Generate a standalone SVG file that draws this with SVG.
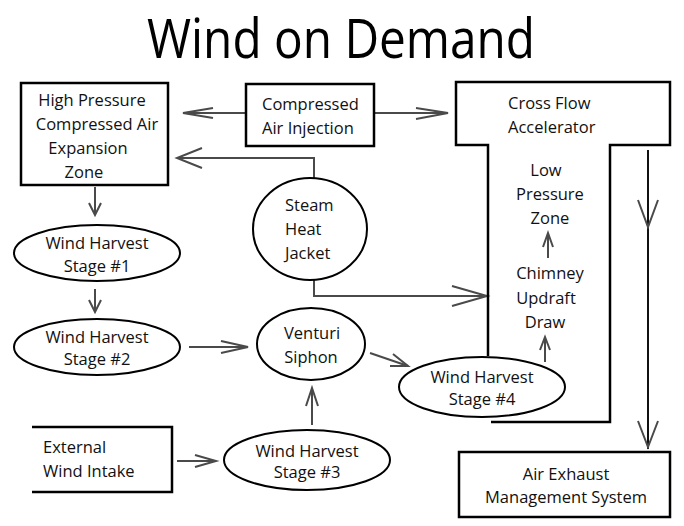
<svg xmlns="http://www.w3.org/2000/svg" width="684" height="526" viewBox="0 0 684 526">
<style>
  .box{fill:none;stroke:#000;stroke-width:2.5}
  .ell{fill:#fff;stroke:#000;stroke-width:2}
  .t{font-family:"Open Sans","Noto Sans","Liberation Sans",sans-serif;font-size:16.5px;fill:#111}
  .m{text-anchor:middle}
  .ln{fill:none;stroke:#4a4a4a;stroke-width:2}
  .ah{fill:none;stroke:#4a4a4a;stroke-width:2;stroke-linejoin:miter}
  .title{font-family:"Open Sans","Noto Sans","Liberation Sans",sans-serif;font-size:54px;fill:#000}
</style>
<rect width="684" height="526" fill="#fff"/>
<text class="title" x="147" y="58" textLength="388" lengthAdjust="spacingAndGlyphs">Wind on Demand</text>

<g id="connectors">
  <!-- CAI -> HP -->
  <line class="ln" x1="246" y1="113" x2="183" y2="113"/>
  <polyline class="ah" points="213,108 183,113 213,118"/>
  <!-- CAI -> Cross Flow -->
  <line class="ln" x1="373" y1="113" x2="448" y2="113"/>
  <polyline class="ah" points="416,108 448,113 416,119"/>
  <!-- Steam -> HP -->
  <polyline class="ln" points="314,178 314,158 177,158"/>
  <polyline class="ah" points="202,148 177,158 202,168"/>
  <!-- Steam -> Chimney -->
  <polyline class="ln" points="314,280 314,296 487,296"/>
  <polyline class="ah" points="452,286 487,296 452,306"/>
  <!-- HP -> Stage1 -->
  <line class="ln" x1="95" y1="187" x2="95" y2="215"/>
  <polyline class="ah" points="89,203 95,215 101,203"/>
  <!-- Stage1 -> Stage2 -->
  <line class="ln" x1="95" y1="289" x2="95" y2="312"/>
  <polyline class="ah" points="89,300 95,312 101,300"/>
  <!-- Stage2 -> Venturi -->
  <line class="ln" x1="189" y1="347" x2="248" y2="347"/>
  <polyline class="ah" points="221,341 248,347 221,353"/>
  <!-- Venturi -> Stage4 -->
  <line class="ln" x1="370" y1="353" x2="408" y2="366"/>
  <polyline class="ah" points="390,366 408,366 393,354"/>
  <!-- Stage3 -> Venturi -->
  <line class="ln" x1="312" y1="425" x2="312" y2="388"/>
  <polyline class="ah" points="306,406 312,388 318,406"/>
  <!-- External -> Stage3 -->
  <line class="ln" x1="177" y1="461" x2="216" y2="461"/>
  <polyline class="ah" points="195,455 216,461 195,467"/>
  <!-- Chimney -> Low Pressure -->
  <line class="ln" x1="548" y1="258" x2="548" y2="233"/>
  <polyline class="ah" points="543,247 548,233 553,247"/>
  <!-- Stage4 -> Chimney -->
  <line class="ln" x1="545" y1="362" x2="545" y2="337"/>
  <polyline class="ah" points="540,350 545,337 550,350"/>
  <!-- Cross Flow -> Air Exhaust -->
  <line x1="648" y1="150" x2="648" y2="449" stroke="#111" stroke-width="2"/>
  <polyline class="ah" points="638,200 648,227 658,200"/>
  <polyline class="ah" points="638,421 648,447 658,421"/>
</g>

<g id="cross-flow-accelerator">
  <path class="box" d="M488,356 V145 H456 V82 H670 V145 H610 V422 H491"/>
  <text class="t" x="508" y="109">Cross Flow</text>
  <text class="t" x="508" y="133">Accelerator</text>
  <text class="t m" x="546" y="176">Low</text>
  <text class="t m" x="550" y="200">Pressure</text>
  <text class="t m" x="550" y="224">Zone</text>
  <text class="t m" x="550" y="279">Chimney</text>
  <text class="t m" x="546" y="304">Updraft</text>
  <text class="t m" x="545" y="328">Draw</text>
</g>

<g id="high-pressure">
  <rect class="box" x="21" y="83" width="147" height="102"/>
  <text class="t m" x="92" y="106">High Pressure</text>
  <text class="t m" x="97" y="130">Compressed Air</text>
  <text class="t m" x="88" y="154">Expansion</text>
  <text class="t m" x="84" y="178">Zone</text>
</g>

<g id="compressed-air-injection">
  <rect class="box" x="246" y="84" width="128" height="62"/>
  <text class="t" x="262" y="110">Compressed</text>
  <text class="t" x="262" y="134">Air Injection</text>
</g>

<g id="steam-heat-jacket">
  <ellipse class="ell" cx="310" cy="229" rx="57" ry="51"/>
  <text class="t" x="285" y="211">Steam</text>
  <text class="t" x="285" y="235">Heat</text>
  <text class="t" x="285" y="259">Jacket</text>
</g>

<g id="stage1">
  <ellipse class="ell" cx="97" cy="253" rx="83" ry="28"/>
  <text class="t m" x="97" y="249">Wind Harvest</text>
  <text class="t m" x="97" y="272">Stage #1</text>
</g>

<g id="stage2">
  <ellipse class="ell" cx="97" cy="347" rx="83" ry="28"/>
  <text class="t m" x="97" y="343">Wind Harvest</text>
  <text class="t m" x="97" y="365">Stage #2</text>
</g>

<g id="venturi-siphon">
  <ellipse class="ell" cx="311" cy="344" rx="54" ry="36"/>
  <text class="t m" x="312" y="339">Venturi</text>
  <text class="t m" x="311" y="363">Siphon</text>
</g>

<g id="stage4">
  <ellipse class="ell" cx="482" cy="387" rx="83" ry="30"/>
  <text class="t m" x="482" y="383">Wind Harvest</text>
  <text class="t m" x="482" y="405">Stage #4</text>
</g>

<g id="stage3">
  <ellipse class="ell" cx="307" cy="460" rx="83" ry="30"/>
  <text class="t m" x="307" y="457">Wind Harvest</text>
  <text class="t m" x="307" y="478">Stage #3</text>
</g>

<g id="external-wind-intake">
  <path class="box" d="M32,427 H172 V492 H32"/>
  <text class="t" x="43" y="453">External</text>
  <text class="t" x="43" y="477">Wind Intake</text>
</g>

<g id="air-exhaust">
  <rect class="box" x="459" y="452" width="211" height="65"/>
  <text class="t m" x="566" y="480">Air Exhaust</text>
  <text class="t m" x="566" y="503">Management System</text>
</g>
</svg>
